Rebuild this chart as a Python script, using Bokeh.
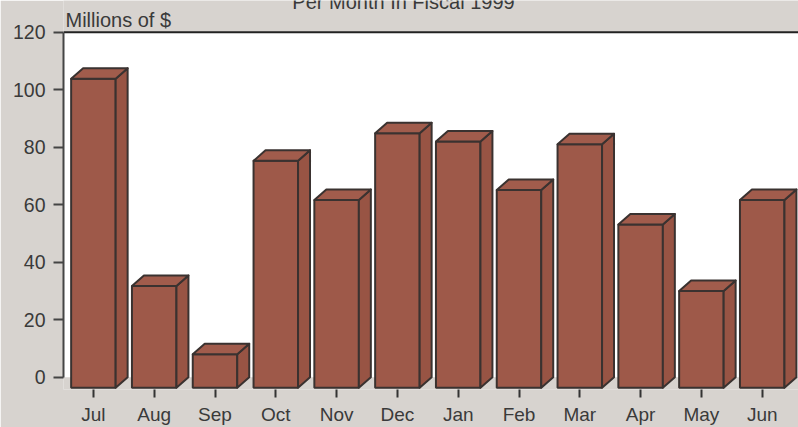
from bokeh.plotting import figure
from bokeh.models import Range1d, FixedTicker, Label
from bokeh.embed import file_html
from bokeh.resources import INLINE

# ---- data ----
months = ["Jul", "Aug", "Sep", "Oct", "Nov", "Dec", "Jan", "Feb", "Mar", "Apr", "May", "Jun"]
values = [107.5, 35.4, 11.6, 78.9, 65.3, 88.5, 85.6, 68.8, 84.7, 56.8, 33.6, 65.3]
y_ticks = [0, 20, 40, 60, 80, 100, 120]
title_text = "Per Month In Fiscal 1999"
unit_text = "Millions of $"

# ---- style ----
BG = "#d7d3cf"
BAR = "#9e5949"
BAR_SIDE = "#985444"
BAR_TOP = "#a15c4c"
EDGE = "#3a3230"
TXT = "#3a3a3a"
FONT = "Liberation Sans"

x0, x1 = -0.4918, 11.597
y0, y1 = -4.28, 131.03
w = 0.732      # front face width (category units)
dx = 0.197     # depth offset x
dy = 3.65      # depth offset y

p = figure(width=798, height=427, output_backend="svg", toolbar_location=None,
           x_range=Range1d(x0, x1), y_range=Range1d(y0, y1),
           min_border_left=63, min_border_right=0, min_border_top=0, min_border_bottom=38,
           background_fill_color=BG, border_fill_color=BG, outline_line_color=None)
p.grid.visible = False

# white back plane
p.quad(left=x0, right=x1, bottom=0, top=120, fill_color="white", line_color=None)
# top border line at 120
p.segment(x0=x0, y0=120, x1=x1, y1=120, line_color="#222222", line_width=2)

idx = list(range(len(months)))
# front faces
p.quad(left=[i - w / 2 for i in idx], right=[i + w / 2 for i in idx],
       bottom=-dy, top=[v - dy for v in values],
       fill_color=BAR, line_color=EDGE, line_width=2)
# side faces
side_xs = [[i + w / 2, i + w / 2 + dx, i + w / 2 + dx, i + w / 2] for i in idx]
side_ys = [[-dy, 0, v, v - dy] for v in values]
p.patches(side_xs, side_ys, fill_color=BAR_SIDE, line_color=EDGE, line_width=2, line_join="round")
# top faces
top_xs = [[i - w / 2, i - w / 2 + dx, i + w / 2 + dx, i + w / 2] for i in idx]
top_ys = [[v - dy, v, v, v - dy] for v in values]
p.patches(top_xs, top_ys, fill_color=BAR_TOP, line_color=EDGE, line_width=2, line_join="round")

# y axis
ya = p.yaxis[0]
ya.ticker = FixedTicker(ticks=y_ticks)
ya.bounds = (0, 120)
ya.axis_line_color = "#444444"
ya.axis_line_width = 2
ya.major_tick_out = 10
ya.major_tick_in = 0
ya.major_tick_line_width = 2
ya.major_tick_line_color = "#444444"
ya.minor_tick_line_color = None
ya.major_label_standoff = 8
ya.major_label_text_font = FONT
ya.major_label_text_font_size = "19.5px"
ya.major_label_text_color = TXT

# x axis
xa = p.xaxis[0]
xa.ticker = FixedTicker(ticks=idx)
xa.major_label_overrides = {i: m for i, m in zip(idx, months)}
xa.axis_line_color = None
xa.major_tick_out = 8
xa.major_tick_in = 0
xa.major_tick_line_width = 2
xa.major_tick_line_color = "#333333"
xa.minor_tick_line_color = None
xa.major_label_standoff = 6
xa.major_label_text_font = FONT
xa.major_label_text_font_size = "19px"
xa.major_label_text_color = TXT

# unit label and (cropped, as in the reference) title
p.add_layout(Label(x=x0 + 2 / 60.8, y=124.4, text=unit_text, text_font=FONT,
                   text_font_size="20px", text_color=TXT, text_baseline="alphabetic"))
p.add_layout(Label(x=5.10, y=130.4, text=title_text, text_font=FONT,
                   text_font_size="20px", text_color=TXT, text_align="center",
                   text_baseline="alphabetic"))

open("out.html", "w").write(file_html(p, INLINE))
